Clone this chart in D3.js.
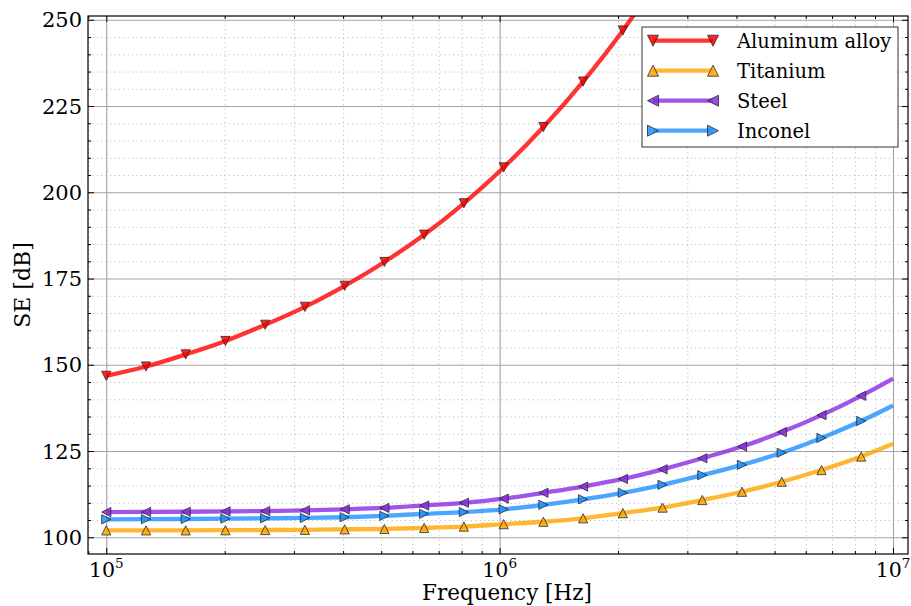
<!DOCTYPE html>
<html>
<head>
<meta charset="utf-8">
<script src="https://cdn.jsdelivr.net/npm/d3@7"></script>
<style>
  body { margin: 0; background: #fff; }
  svg { display: block; }
  text { font-family: "DejaVu Serif", serif; fill: #000; }
</style>
</head>
<body>
<svg id="chart" width="911" height="606"></svg>
<script>
// Sample frequencies (Hz); markers sit on all but the final point
const frequencies = [1.000e5, 1.262e5, 1.592e5, 2.009e5, 2.535e5, 3.199e5, 4.037e5, 5.094e5,
  6.428e5, 8.111e5, 1.024e6, 1.292e6, 1.630e6, 2.057e6, 2.595e6, 3.275e6, 4.132e6,
  5.214e6, 6.579e6, 8.302e6, 1.000e7];

// Shielding effectiveness (dB) per material
const aluminum = [146.8, 149.5, 153.0, 156.9, 161.6, 166.8, 172.9, 179.8, 187.7, 196.8,
  207.2, 218.9, 232.1, 246.9, 263.8];
const titanium = [102.0, 102.0, 102.0, 102.05, 102.1, 102.15, 102.3, 102.4, 102.7, 103.1,
  103.8, 104.5, 105.5, 107.0, 108.6, 110.8, 113.2, 116.1, 119.5, 123.4, 127.1];
const steel = [107.3, 107.35, 107.4, 107.5, 107.6, 107.8, 108.1, 108.5, 109.2, 110.0,
  111.2, 112.9, 114.7, 116.9, 119.7, 122.9, 126.3, 130.5, 135.4, 141.0, 146.0];
const inconel = [105.2, 105.25, 105.3, 105.4, 105.5, 105.6, 105.8, 106.2, 106.8, 107.3,
  108.1, 109.4, 111.0, 112.9, 115.2, 118.0, 121.0, 124.5, 128.8, 133.7, 138.2];

const seriesNames = ["Aluminum alloy", "Titanium", "Steel", "Inconel"];
const seriesValues = [aluminum, titanium, steel, inconel];
const seriesColors = ["#ff0000", "#ffa500", "#8a2be2", "#1e90ff"];
const seriesMarkers = ["down", "up", "left", "right"];

const yMajorTicks = [100, 125, 150, 175, 200, 225, 250];
const xMajorTicks = [1e5, 1e6, 1e7];
const xTickExponents = ["5", "6", "7"];

const xLabel = "Frequency [Hz]";
const yLabel = "SE [dB]";

// ---- layout ----
const svg = d3.select("#chart");
const plot = { left: 88, right: 908, top: 16, bottom: 554 };
const W = plot.right - plot.left, H = plot.bottom - plot.top;

const x = d3.scaleLog().domain([89860, 1.0917e7]).range([plot.left, plot.right]);
const y = d3.scaleLinear().domain([95.15, 251.1]).range([plot.bottom, plot.top]);

const xMinorTicks = x.ticks().filter(v => !xMajorTicks.includes(v));
const yMinorTicks = d3.range(95, 251, 5).filter(v => !yMajorTicks.includes(v) && v >= y.domain()[0]);

svg.append("defs").append("clipPath").attr("id", "plotClip")
  .append("rect").attr("x", plot.left).attr("y", plot.top).attr("width", W).attr("height", H);

// ---- grid ----
const grid = svg.append("g");
function gridLines(axisGen, tr, vals, cls) {
  const g = grid.append("g").attr("transform", tr)
    .call(axisGen.tickValues(vals).tickFormat(""));
  g.select(".domain").remove();
  g.selectAll("line").attr("class", cls);
  return g;
}
gridLines(d3.axisBottom(x).tickSize(-H), `translate(0,${plot.bottom})`, xMinorTicks, "minor");
gridLines(d3.axisLeft(y).tickSize(-W), `translate(${plot.left},0)`, yMinorTicks, "minor");
gridLines(d3.axisBottom(x).tickSize(-H), `translate(0,${plot.bottom})`, xMajorTicks, "major");
gridLines(d3.axisLeft(y).tickSize(-W), `translate(${plot.left},0)`, yMajorTicks, "major");
grid.selectAll("line.minor").attr("stroke", "#bdbdbd").attr("stroke-width", 1).attr("stroke-dasharray", "1.2,3.2");
grid.selectAll("line.major").attr("stroke", "#a3a3a3").attr("stroke-width", 1.1);

// ---- series ----
function markerPath(kind, s) {
  switch (kind) {
    case "down": return `M0,${s}L${-s},${-s}L${s},${-s}Z`;
    case "up": return `M0,${-s}L${-s},${s}L${s},${s}Z`;
    case "left": return `M${-s},0L${s},${-s}L${s},${s}Z`;
    default: return `M${s},0L${-s},${-s}L${-s},${s}Z`;
  }
}
const line = d3.line().x(d => x(d.f)).y(d => y(d.v)).curve(d3.curveMonotoneX);
const plotG = svg.append("g").attr("clip-path", "url(#plotClip)");

seriesValues.forEach((vals, si) => {
  const pts = vals.map((v, i) => ({ f: frequencies[i], v }));
  const g = plotG.append("g");
  g.append("path").datum(pts).attr("d", line)
    .attr("fill", "none").attr("stroke", seriesColors[si]).attr("stroke-opacity", 0.8)
    .attr("stroke-width", 4.3).attr("stroke-linejoin", "round");
  g.selectAll("path.mk").data(pts.filter((d, i) => i < frequencies.length - 1))
    .join("path").attr("class", "mk")
    .attr("transform", d => `translate(${x(d.f)},${y(d.v)})`)
    .attr("d", markerPath(seriesMarkers[si], 4.6))
    .attr("fill", seriesColors[si]).attr("fill-opacity", 0.85)
    .attr("stroke", "#2a2a2a").attr("stroke-width", 0.8);
});

// ---- axes (inward ticks on all sides) ----
function tickAxis(axisGen, tr, vals, size) {
  const g = svg.append("g").attr("transform", tr)
    .call(axisGen.tickValues(vals).tickSize(size).tickFormat(""));
  g.select(".domain").remove();
  g.selectAll("line").attr("stroke", "#000").attr("stroke-width", 1);
}
tickAxis(d3.axisTop(x), `translate(0,${plot.bottom})`, xMajorTicks, 6);
tickAxis(d3.axisTop(x), `translate(0,${plot.bottom})`, xMinorTicks, 3);
tickAxis(d3.axisBottom(x), `translate(0,${plot.top})`, xMajorTicks, 6);
tickAxis(d3.axisBottom(x), `translate(0,${plot.top})`, xMinorTicks, 3);
tickAxis(d3.axisRight(y), `translate(${plot.left},0)`, yMajorTicks, 6);
tickAxis(d3.axisRight(y), `translate(${plot.left},0)`, yMinorTicks, 3);
tickAxis(d3.axisLeft(y), `translate(${plot.right},0)`, yMajorTicks, 6);
tickAxis(d3.axisLeft(y), `translate(${plot.right},0)`, yMinorTicks, 3);

svg.append("rect").attr("x", plot.left).attr("y", plot.top).attr("width", W).attr("height", H)
  .attr("fill", "none").attr("stroke", "#000").attr("stroke-width", 1.2);

// tick labels
svg.append("g").selectAll("text").data(yMajorTicks).join("text")
  .attr("x", plot.left - 6).attr("y", d => y(d) + 7.5)
  .attr("text-anchor", "end").attr("font-size", 21).text(d => d);

const xl = svg.append("g").selectAll("text").data(xMajorTicks).join("text")
  .attr("x", d => x(d)).attr("y", 577)
  .attr("text-anchor", "middle").attr("font-size", 20.5);
xl.append("tspan").text("10");
xl.append("tspan").attr("font-size", 13.5).attr("dy", -9.5).text((d, i) => xTickExponents[i]);

// axis titles
svg.append("text").attr("x", (plot.left + plot.right) / 2 + 9).attr("y", 600)
  .attr("text-anchor", "middle").attr("font-size", 21.5).text(xLabel);
svg.append("text").attr("transform", `translate(30,${(plot.top + plot.bottom) / 2}) rotate(-90)`)
  .attr("text-anchor", "middle").attr("font-size", 22).text(yLabel);

// ---- legend ----
const lg = svg.append("g");
lg.append("rect").attr("x", 642).attr("y", 27).attr("width", 256).attr("height", 120)
  .attr("fill", "#fff").attr("stroke", "#333").attr("stroke-width", 1);
seriesNames.forEach((name, si) => {
  const cy = 40.7 + si * 30;
  lg.append("line").attr("x1", 653).attr("x2", 713).attr("y1", cy).attr("y2", cy)
    .attr("stroke", seriesColors[si]).attr("stroke-opacity", 0.8).attr("stroke-width", 4.3);
  [653, 713].forEach(mx => {
    lg.append("path").attr("transform", `translate(${mx},${cy})`)
      .attr("d", markerPath(seriesMarkers[si], 5.5))
      .attr("fill", seriesColors[si]).attr("fill-opacity", 0.85)
      .attr("stroke", "#2a2a2a").attr("stroke-width", 0.8);
  });
  lg.append("text").attr("x", 737).attr("y", cy + 7).attr("font-size", 19.5).text(name);
});
</script>
</body>
</html>
